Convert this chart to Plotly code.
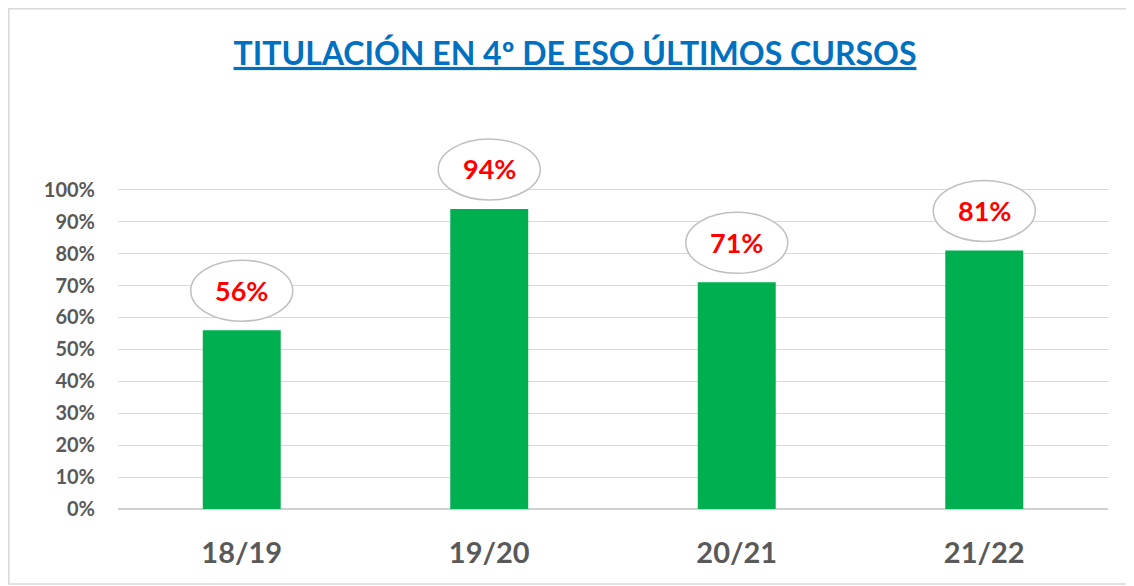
import plotly.graph_objects as go

categories = ["18/19", "19/20", "20/21", "21/22"]
values = [0.56, 0.94, 0.71, 0.81]
labels = ["56%", "94%", "71%", "81%"]
tick_vals = [0, 0.1, 0.2, 0.3, 0.4, 0.5, 0.6, 0.7, 0.8, 0.9, 1.0]
tick_text = ["0%", "10%", "20%", "30%", "40%", "50%", "60%", "70%", "80%", "90%", "100%"]
title_text = "TITULACIÓN EN 4º DE ESO ÚLTIMOS CURSOS"

FONT = "Lato"
GRAY = "#595959"

fig = go.Figure()
fig.add_trace(go.Bar(
    x=categories, y=values, marker=dict(color="#00B050", line=dict(width=0)),
    width=0.315, hoverinfo="skip"
))

for i, (c, v, t) in enumerate(zip(categories, values, labels)):
    fig.add_shape(
        type="circle", xref="x", yref="y", xsizemode="pixel", ysizemode="pixel",
        xanchor=c, yanchor=v, x0=-51, x1=51, y0=9, y1=70,
        line=dict(color="#BFBFBF", width=1.5), fillcolor="white", layer="above"
    )
    fig.add_annotation(
        x=c, y=v, xref="x", yref="y", text="<b>%s</b>" % t, showarrow=False,
        yshift=40, font=dict(family=FONT, size=27, color="#FF0000")
    )

# outer frame of the chart area (plot area: 990 x 399 px)
fig.add_shape(type="rect", xref="paper", yref="paper",
              x0=-109.2 / 990, x1=1.06, y0=-75 / 399, y1=1 + 101.2 / 399,
              line=dict(color="#D9D9D9", width=1.5), fillcolor="rgba(0,0,0,0)")

fig.update_layout(
    width=1134, height=586,
    margin=dict(l=110, r=34, t=102, b=85),
    paper_bgcolor="white", plot_bgcolor="white",
    showlegend=False,
    title=dict(
        text="<u>%s</u>" % title_text,
        x=0.5, xref="container", xanchor="center",
        y=0.922, yref="container", yanchor="middle",
        font=dict(family=FONT, size=32, color="#0070C0", weight="bold")
    ),
    xaxis=dict(
        showgrid=False, showline=False, zeroline=False,
        ticks="outside", ticklen=18, tickcolor="rgba(0,0,0,0)",
        tickfont=dict(family=FONT, size=29, color=GRAY, weight="bold"),
        fixedrange=True
    ),
    yaxis=dict(
        range=[0, 1.25], tickvals=tick_vals, ticktext=tick_text,
        showgrid=True, gridcolor="#D9D9D9", gridwidth=1,
        zeroline=True, zerolinecolor="#D0D0D0", zerolinewidth=2,
        showline=False,
        ticks="outside", ticklen=18, tickcolor="rgba(0,0,0,0)",
        tickfont=dict(family=FONT, size=20, color=GRAY, weight="bold"),
        fixedrange=True
    ),
)

fig.write_html("out.html")
